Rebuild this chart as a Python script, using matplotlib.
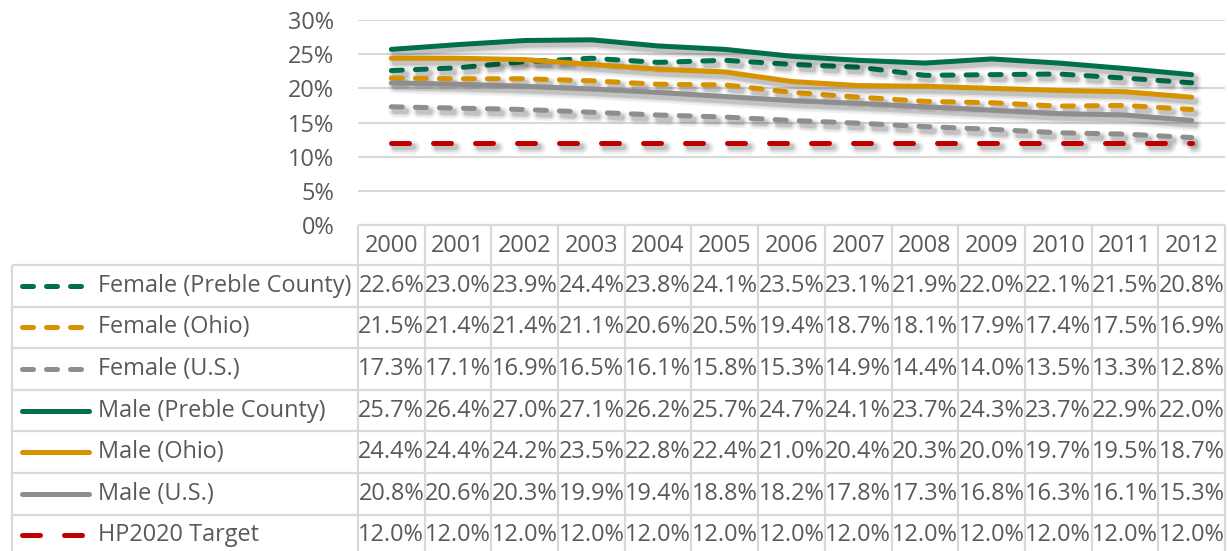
import matplotlib
matplotlib.use("Agg")
import matplotlib.pyplot as plt
import matplotlib.patheffects as pe
from matplotlib.lines import Line2D

years = ["2000", "2001", "2002", "2003", "2004", "2005", "2006",
         "2007", "2008", "2009", "2010", "2011", "2012"]

female_preble = [22.6, 23.0, 23.9, 24.4, 23.8, 24.1, 23.5, 23.1, 21.9, 22.0, 22.1, 21.5, 20.8]
female_ohio = [21.5, 21.4, 21.4, 21.1, 20.6, 20.5, 19.4, 18.7, 18.1, 17.9, 17.4, 17.5, 16.9]
female_us = [17.3, 17.1, 16.9, 16.5, 16.1, 15.8, 15.3, 14.9, 14.4, 14.0, 13.5, 13.3, 12.8]
male_preble = [25.7, 26.4, 27.0, 27.1, 26.2, 25.7, 24.7, 24.1, 23.7, 24.3, 23.7, 22.9, 22.0]
male_ohio = [24.4, 24.4, 24.2, 23.5, 22.8, 22.4, 21.0, 20.4, 20.3, 20.0, 19.7, 19.5, 18.7]
male_us = [20.8, 20.6, 20.3, 19.9, 19.4, 18.8, 18.2, 17.8, 17.3, 16.8, 16.3, 16.1, 15.3]
hp2020_target = [12.0] * 13

series_names = ["Female (Preble County)", "Female (Ohio)", "Female (U.S.)",
                "Male (Preble County)", "Male (Ohio)", "Male (U.S.)", "HP2020 Target"]
series_values = [female_preble, female_ohio, female_us,
                 male_preble, male_ohio, male_us, hp2020_target]

GREEN = "#00704C"
GOLD = "#D69200"
GRAY = "#8E8E8E"
RED = "#C00000"
TEXT = "#595959"
GRID = "#D9D9D9"

LW = 3.6
short_dash = (0, (2.2, 2.6))
long_dash = (0, (3.6, 4.8))
series_styles = [
    (GREEN, short_dash), (GOLD, short_dash), (GRAY, short_dash),
    (GREEN, "-"), (GOLD, "-"), (GRAY, "-"), (RED, long_dash),
]

plt.rcParams["font.family"] = ["Open Sans", "DejaVu Sans"]
FS = 16.9

W, H = 1228, 551
fig = plt.figure(figsize=(W / 100, H / 100), dpi=100)

# layout in pixels
col_left, col_right = 358, 1225
plot_top, plot_bottom = 20, 225
col_w = (col_right - col_left) / len(years)

shadow = [
    pe.SimpleLineShadow(offset=(2.5, -3.0), shadow_color="k", alpha=0.06, linewidth=LW * 2.6),
    pe.SimpleLineShadow(offset=(2.5, -3.0), shadow_color="k", alpha=0.08, linewidth=LW * 1.8),
    pe.SimpleLineShadow(offset=(2.5, -3.0), shadow_color="k", alpha=0.12, linewidth=LW * 1.2),
    pe.Normal(),
]

ax = fig.add_axes([col_left / W, (H - plot_bottom) / H,
                   (col_right - col_left) / W, (plot_bottom - plot_top) / H])
x = list(range(len(years)))
for vals, (color, ls) in zip(series_values, series_styles):
    ax.plot(x, [v / 100 for v in vals], color=color, lw=LW, ls=ls,
            solid_capstyle="round", dash_capstyle="round",
            solid_joinstyle="round", path_effects=shadow, zorder=3)

ax.set_xlim(-0.5, len(years) - 0.5)
ax.set_ylim(0, 0.30)
ax.set_yticks([i * 0.05 for i in range(7)])
ax.yaxis.set_major_formatter(matplotlib.ticker.FuncFormatter(lambda v, p: f"{v * 100:.0f}%"))
ax.tick_params(axis="y", length=0, pad=17, labelsize=FS, labelcolor=TEXT)
ax.set_xticks([])
ax.grid(axis="y", color=GRID, lw=1.5)
ax.set_axisbelow(True)
for s in ax.spines.values():
    s.set_visible(False)

# data table below the plot, same column grid as the plot
leg_left = 12
tab_top, tab_bottom = 225, 558
header_h = 40
row_h = 41.6


def px_to_col(px):
    return -0.5 + (px - col_left) / col_w


tx = fig.add_axes([leg_left / W, (H - tab_bottom) / H,
                   (col_right - leg_left) / W, (tab_bottom - tab_top) / H])
tx.set_xlim(px_to_col(leg_left), px_to_col(col_right))
tx.set_ylim(tab_bottom - tab_top, 0)
tx.axis("off")

n_rows = len(series_names)
bottom_y = tab_bottom - tab_top
bl = dict(color=GRID, lw=1.6, solid_capstyle="butt", clip_on=False)
# header borders
tx.plot([-0.5, len(years) - 0.5], [0, 0], **bl)
for i in range(len(years) + 1):
    tx.plot([i - 0.5, i - 0.5], [0, bottom_y], **bl)
tx.plot([px_to_col(leg_left)] * 2, [header_h, bottom_y], **bl)
for r in range(n_rows + 1):
    yy = header_h + r * row_h
    tx.plot([px_to_col(leg_left), len(years) - 0.5], [yy, yy], **bl)

for i, yr in enumerate(years):
    tx.text(i, header_h / 2 + 1, yr, ha="center", va="center", fontsize=FS, color=TEXT)

for r, (name, vals, (color, ls)) in enumerate(zip(series_names, series_values, series_styles)):
    yc = header_h + (r + 0.5) * row_h
    if ls == "-":
        kx0, kx1 = 22.5, 89.5
    elif ls == long_dash:
        kx0, kx1 = 22.5, 82.5
    else:
        kx0, kx1 = 22.5, 81.5
    tx.add_line(Line2D([px_to_col(kx0), px_to_col(kx1)], [yc, yc], color=color, lw=LW,
                       ls=ls, solid_capstyle="round", dash_capstyle="round"))
    tx.text(px_to_col(98), yc, name, ha="left", va="center", fontsize=FS, color=TEXT)
    for i, v in enumerate(vals):
        tx.text(i, yc, f"{v:.1f}%", ha="center", va="center", fontsize=FS, color=TEXT)

fig.savefig("out.png", dpi=100)
